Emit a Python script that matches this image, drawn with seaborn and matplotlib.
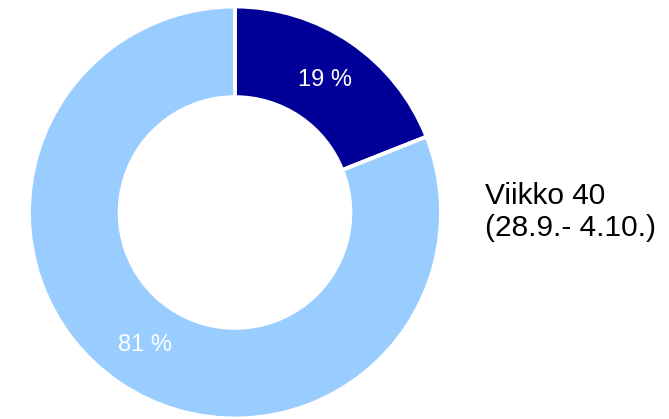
import matplotlib
matplotlib.use("Agg")
import matplotlib.pyplot as plt
import seaborn as sns

# Data
categories = ["Kategoria A", "Kategoria B"]
values = [19, 81]
series_title = "Viikko 40\n(28.9.- 4.10.)"
colors = ["#000099", "#99CCFF"]

sns.set_theme(style="white")
plt.rcParams['font.family'] = ['Liberation Sans', 'DejaVu Sans']

W, H = 669, 419
fig = plt.figure(figsize=(W / 100, H / 100), dpi=100)
ax = fig.add_axes([0, 0, 1, 1])

cx, cy, R = 235, 212.5, 206.0
palette = sns.color_palette(colors)

wedges, texts, autotexts = ax.pie(
    values,
    colors=palette,
    startangle=90,
    counterclock=False,
    autopct=lambda p: f"{p:.0f} %",
    pctdistance=0.78,
    radius=1.0,
    wedgeprops=dict(width=0.44, edgecolor="white", linewidth=2.8),
    textprops=dict(color="white", fontsize=17),
)

ax.set_xlim(-cx / R, (W - cx) / R)
ax.set_ylim(-(H - cy) / R, cy / R)
ax.set_aspect("equal")
ax.axis("off")

fig.text(485 / W, 1 - 212 / H, series_title, ha="left", va="center",
         fontsize=21.5, color="black", linespacing=1.2)

fig.savefig("out.png", dpi=100, facecolor="white")
